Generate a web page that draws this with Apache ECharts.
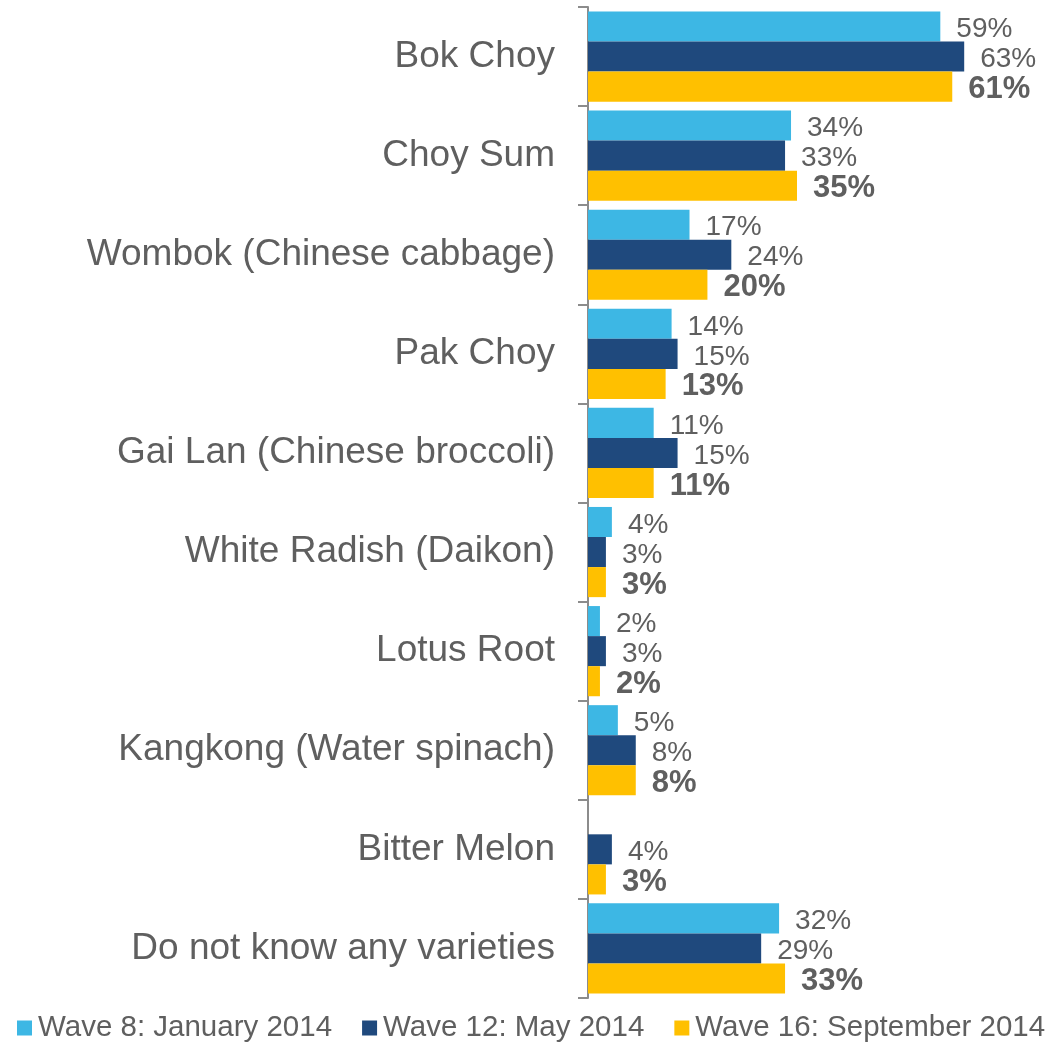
<!DOCTYPE html>
<html>
<head>
<meta charset="utf-8">
<script src="https://cdn.jsdelivr.net/npm/echarts@6/dist/echarts.min.js"></script>
<style>
  html, body { margin: 0; padding: 0; background: #ffffff; }
  #chart { width: 1064px; height: 1042px; }
</style>
</head>
<body>
<div id="chart"></div>
<script>
// Asian vegetable varieties known, by survey wave (%)
const categories = [
  'Bok Choy',
  'Choy Sum',
  'Wombok (Chinese cabbage)',
  'Pak Choy',
  'Gai Lan (Chinese broccoli)',
  'White Radish (Daikon)',
  'Lotus Root',
  'Kangkong (Water spinach)',
  'Bitter Melon',
  'Do not know any varieties'
];
const seriesNames = ['Wave 8: January 2014', 'Wave 12: May 2014', 'Wave 16: September 2014'];
const wave8  = [59, 34, 17, 14, 11, 4, 2, 5, null, 32];
const wave12 = [63, 33, 24, 15, 15, 3, 3, 8, 4, 29];
const wave16 = [61, 35, 20, 13, 11, 3, 2, 8, 3, 33];

const colors = ['#3db7e4', '#1f497d', '#ffc000'];
const fontFamily = 'Liberation Sans, Arial, sans-serif';
const textGray = '#5f5f5f';

function makeSeries(name, data, color, bold) {
  return {
    name: name,
    type: 'bar',
    data: data,
    barGap: '0%',
    barCategoryGap: '9%',
    itemStyle: { color: color },
    label: {
      show: true,
      position: 'right',
      distance: 16,
      offset: [0, 3],
      formatter: p => (p.value == null ? '' : p.value + '%'),
      color: textGray,
      fontFamily: fontFamily,
      fontSize: bold ? 31 : 28,
      fontWeight: bold ? 'bold' : 'normal'
    }
  };
}

const chart = echarts.init(document.getElementById('chart'), null, { renderer: 'canvas' });
chart.setOption({
  animation: false,
  color: colors,
  grid: { left: 588, top: 7, bottom: 44, right: 58, containLabel: false },
  legend: {
    data: seriesNames,
    left: 17,
    top: 1013,
    padding: 0,
    icon: 'rect',
    itemWidth: 15,
    itemHeight: 15,
    itemGap: 30,
    textStyle: { color: textGray, fontFamily: fontFamily, fontSize: 29.5, padding: [0, 0, 0, 1] }
  },
  xAxis: {
    type: 'value',
    min: 0,
    max: 70,
    show: false,
    splitLine: { show: false }
  },
  yAxis: {
    type: 'category',
    data: categories,
    inverse: true,
    axisLine: { show: true, lineStyle: { color: '#8c8c8c', width: 2 } },
    axisTick: { show: true, length: 10, lineStyle: { color: '#8c8c8c', width: 2 } },
    axisLabel: { color: textGray, fontFamily: fontFamily, fontSize: 37, margin: 33 }
  },
  series: [
    makeSeries(seriesNames[0], wave8, colors[0], false),
    makeSeries(seriesNames[1], wave12, colors[1], false),
    makeSeries(seriesNames[2], wave16, colors[2], true)
  ]
});
</script>
</body>
</html>
